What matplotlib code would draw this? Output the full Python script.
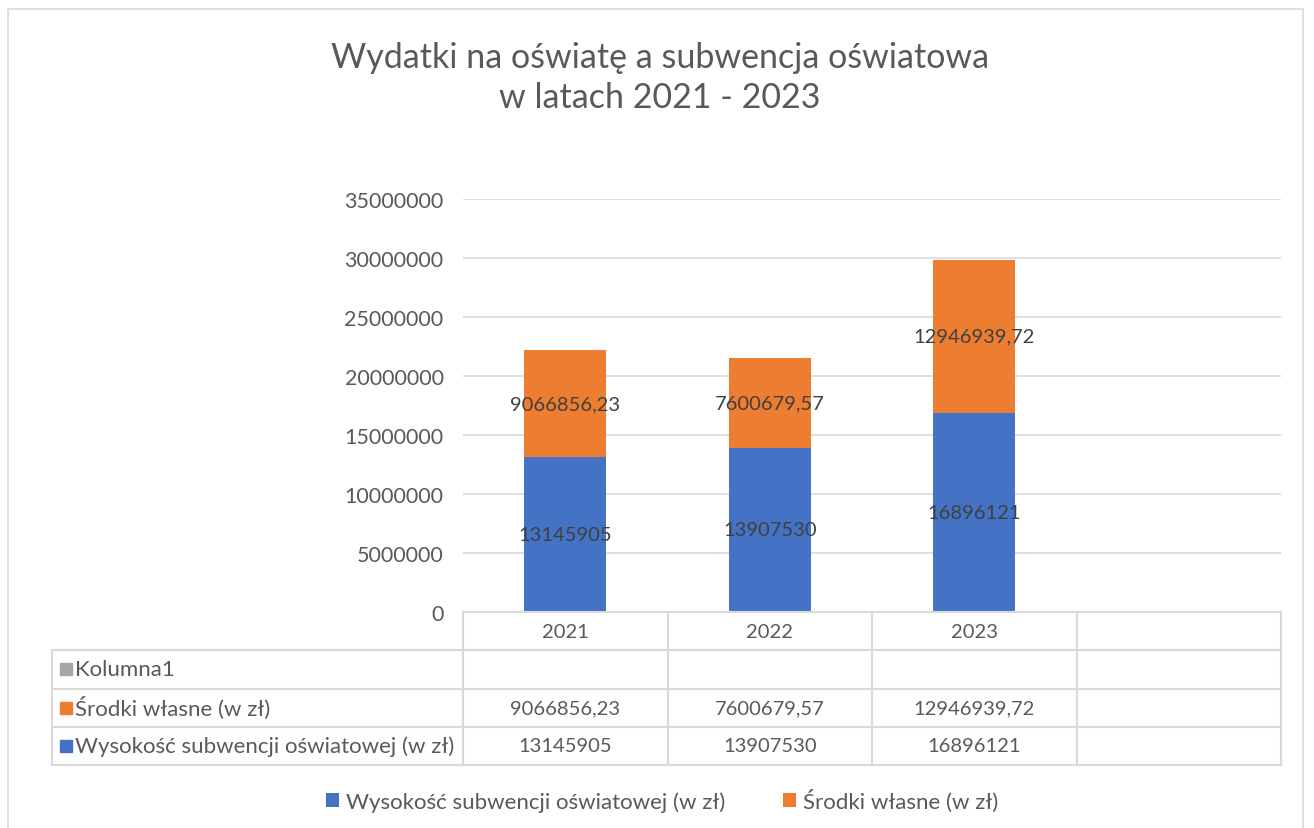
import matplotlib
matplotlib.use("Agg")
import matplotlib.pyplot as plt
from matplotlib.patches import Rectangle
from matplotlib.transforms import blended_transform_factory

plt.rcParams['font.family'] = ['Lato', 'DejaVu Sans']

# ---- data ----
years = ["2021", "2022", "2023", ""]
subwencja = [13145905, 13907530, 16896121]
srodki = [9066856.23, 7600679.57, 12946939.72]
subwencja_lbl = ["13145905", "13907530", "16896121"]
srodki_lbl = ["9066856,23", "7600679,57", "12946939,72"]
series_names = ["Kolumna1", "Środki własne (w zł)", "Wysokość subwencji oświatowej (w zł)"]
yticks = [0, 5000000, 10000000, 15000000, 20000000, 25000000, 30000000, 35000000]
title = "Wydatki na oświatę a subwencja oświatowa\nw latach 2021 - 2023"

BLUE = "#4472C4"
ORANGE = "#ED7D31"
GRAY = "#A5A5A5"
TXT = "#595959"
LBL = "#404040"
GRID = "#D9D9D9"

W, H = 1314, 829
fig = plt.figure(figsize=(W / 100, H / 100), dpi=100)

def fx(px):
    return px / W

def fy(py):
    return 1 - py / H

# outer chart border
fig.patches.append(Rectangle((fx(8), fy(835)), fx(1303) - fx(8), fy(10) - fy(835),
                             transform=fig.transFigure, fill=False, edgecolor=GRID, lw=1.2))

# title
fig.text(fx(660), fy(78), title, ha="center", va="center", fontsize=24.5, color=TXT,
         linespacing=1.3)

# main axes
ax = fig.add_axes([fx(463), fy(613), fx(1281) - fx(463), fy(200) - fy(613)])
x = list(range(len(subwencja)))
ax.bar(x, subwencja, width=0.4, color=BLUE, zorder=3, label=series_names[2])
ax.bar(x, srodki, width=0.4, bottom=subwencja, color=ORANGE, zorder=3, label=series_names[1])
ax.set_xlim(-0.5, len(years) - 0.5)
ax.set_ylim(0, 35000000)
ax.set_yticks(yticks)
ax.set_yticklabels([str(v) for v in yticks], fontsize=15.5, color=TXT)
ax.tick_params(axis="y", length=0, pad=14)
ax.set_xticks([])
for s in ax.spines.values():
    s.set_visible(False)
ax.grid(axis="y", color=GRID, lw=1.2, zorder=0)
ax.set_axisbelow(True)

for i in x:
    ax.text(i, subwencja[i] / 2, subwencja_lbl[i], ha="center", va="center",
            fontsize=14.5, color=LBL, zorder=4)
    ax.text(i, subwencja[i] + srodki[i] / 2, srodki_lbl[i], ha="center", va="center",
            fontsize=14.5, color=LBL, zorder=4)

# data table
tax = fig.add_axes([fx(52), fy(766), fx(1281) - fx(52), fy(613) - fy(766)])
tax.set_xlim(0, 1)
tax.set_ylim(0, 4)
tax.axis("off")
bt = blended_transform_factory(ax.transData, tax.transData)
n = len(years)
tax.plot([-0.5, n - 0.5], [4, 4], color=GRID, lw=1.5, transform=bt, clip_on=False)
for yy in [3, 2, 1, 0]:
    tax.plot([0, 1], [yy, yy], color=GRID, lw=1.5, clip_on=False)
tax.plot([0, 0], [0, 3], color=GRID, lw=1.5, clip_on=False)
for k in range(n + 1):
    tax.plot([k - 0.5, k - 0.5], [0, 4], color=GRID, lw=1.5, transform=bt, clip_on=False)
for k, yr in enumerate(years):
    tax.text(k, 3.5, yr, ha="center", va="center", fontsize=14.5, color=TXT, transform=bt)
row_vals = [["", "", "", ""], srodki_lbl + [""], subwencja_lbl + [""]]
row_cols = [GRAY, ORANGE, BLUE]
for r, (name, vals, col) in enumerate(zip(series_names, row_vals, row_cols)):
    yc = 2.5 - r
    tax.plot([0.0115], [yc], marker="s", markersize=9, color=col, clip_on=False)
    tax.text(0.0185, yc, name, ha="left", va="center", fontsize=16, color=TXT)
    for k, v in enumerate(vals):
        tax.text(k, yc, v, ha="center", va="center", fontsize=14.5, color=TXT, transform=bt)

# legend
h, l = ax.get_legend_handles_labels()
fig.legend(h, l, loc="center", bbox_to_anchor=(fx(662), fy(801)), ncol=2, frameon=False,
           fontsize=16, labelcolor=TXT, handlelength=0.6, handleheight=0.6,
           handletextpad=0.3, columnspacing=2.6)

fig.savefig("out.png", dpi=100)
